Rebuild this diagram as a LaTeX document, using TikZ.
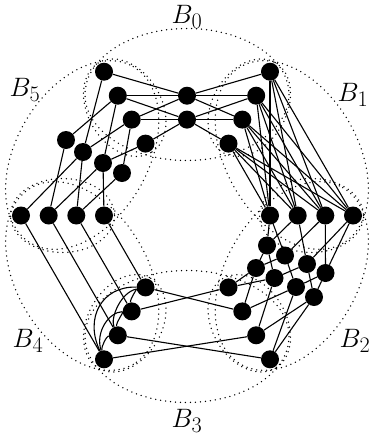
\documentclass[tikz,border=0pt]{standalone}
\begin{document}
\begin{tikzpicture}[x=1pt,y=-1pt,
  v/.style={circle,fill=black,inner sep=0pt,minimum size=18pt},
  e/.style={line width=1.1pt},
  bag/.style={line width=1.5pt,dash pattern=on 0pt off 5pt,line cap=round,black},
  lab/.style={font=\fontsize{24.88}{30}\selectfont,scale=1.07}]
\useasboundingbox (0,0) rectangle (370,437);
% bags
\draw[bag,rotate around={0:(187,94.5)}] (187,94.5) ellipse[x radius=102,y radius=66];
\draw[bag,rotate around={-60:(291.8,155)}] (291.8,155) ellipse[x radius=102,y radius=66];
\draw[bag,rotate around={60:(291.8,276)}] (291.8,276) ellipse[x radius=102,y radius=66];
\draw[bag,rotate around={0:(187,336.5)}] (187,336.5) ellipse[x radius=102,y radius=66];
\draw[bag,rotate around={-60:(82.2,276)}] (82.2,276) ellipse[x radius=102,y radius=66];
\draw[bag,rotate around={60:(82.2,155)}] (82.2,155) ellipse[x radius=102,y radius=66];
% separators
\draw[bag,rotate around={0:(311.5,215.5)}] (311.5,215.5) ellipse[x radius=52,y radius=37];
\draw[bag,rotate around={60:(249.25,107.7)}] (249.25,107.7) ellipse[x radius=52,y radius=37];
\draw[bag,rotate around={-60:(124.75,107.7)}] (124.75,107.7) ellipse[x radius=52,y radius=37];
\draw[bag,rotate around={0:(62.5,215.5)}] (62.5,215.5) ellipse[x radius=52,y radius=37];
\draw[bag,rotate around={60:(124.75,323.3)}] (124.75,323.3) ellipse[x radius=52,y radius=37];
\draw[bag,rotate around={-60:(249.25,323.3)}] (249.25,323.3) ellipse[x radius=52,y radius=37];
% labels
\node[lab] (l0) at (187,17) {$B_0$};
\node[lab] (l1) at (353,95) {$B_1$};
\node[lab] (l2) at (355,341) {$B_2$};
\node[lab] (l3) at (187,421) {$B_3$};
\node[lab] (l4) at (28,341) {$B_4$};
\node[lab] (l5) at (25,90) {$B_5$};
% vertices
\node[v] (t3) at (145.5,143.6) {}; \node[v] (t4) at (131.7,119.6) {};
\node[v] (t5) at (117.8,95.7) {};  \node[v] (t6) at (104,71.7) {};
\node[v] (u3) at (228.5,143.6) {}; \node[v] (u4) at (242.3,119.6) {};
\node[v] (u5) at (256.2,95.7) {};  \node[v] (u6) at (270,71.7) {};
\node[v] (R3) at (270,215.5) {};   \node[v] (R4) at (297.7,215.5) {};
\node[v] (R5) at (325.3,215.5) {}; \node[v] (R6) at (353,215.5) {};
\node[v] (L3) at (104,215.5) {};   \node[v] (L4) at (76.3,215.5) {};
\node[v] (L5) at (48.7,215.5) {};  \node[v] (L6) at (21,215.5) {};
\node[v] (p3) at (145.5,287.4) {}; \node[v] (p4) at (131.7,311.4) {};
\node[v] (p5) at (117.8,335.3) {}; \node[v] (p6) at (104,359.3) {};
\node[v] (q3) at (228.5,287.4) {}; \node[v] (q4) at (242.3,311.4) {};
\node[v] (q5) at (256.2,335.3) {}; \node[v] (q6) at (270,359.3) {};
\node[v] (c4) at (187,119.6) {};   \node[v] (c5) at (187,95.7) {};
\node[v] (n3) at (122,173) {};     \node[v] (n4) at (103,163) {};
\node[v] (n5) at (83,152) {};      \node[v] (n6) at (66,140) {};
\node[v] (a1) at (267,245.5) {};   \node[v] (a2) at (285,255.5) {};
\node[v] (a3) at (307,264) {};     \node[v] (a4) at (325.5,273) {};
\node[v] (b1) at (256,268) {};     \node[v] (b2) at (274.5,278) {};
\node[v] (b3) at (296,287) {};     \node[v] (b4) at (314,297) {};
% B0
\foreach \a/\b in {c5/t6,c5/t5,c5/t4,c4/t5,c4/t4,c4/t3,c5/u6,c5/u5,c5/u4,c4/u5,c4/u4,c4/u3}
  \draw[e] (\a) -- (\b);
% B1
\foreach \a in {u3,u4,u5,u6} \foreach \b in {R3,R4,R5,R6} \draw[e] (\a) -- (\b);
% B2
\foreach \a/\b in {R3/a1,R3/a2,R4/a1,R4/a3,R5/a2,R5/a4,R6/a3,R6/a4,
  a1/b1,a1/b2,a2/b1,a2/b3,a3/b2,a3/b4,a4/b3,a4/b4,
  b1/q3,b2/q3,b1/q4,b3/q4,b2/q5,b4/q5,b3/q6,b4/q6}
  \draw[e] (\a) -- (\b);
% B3
\foreach \a/\b in {p3/q4,p4/q3,p5/q6,p6/q5} \draw[e] (\a) -- (\b);
% B4
\foreach \a/\b in {L3/p3,L4/p4,L5/p5,L6/p6} \draw[e] (\a) -- (\b);
\draw[e] (p6) .. controls (84,318) and (102,286) .. (p3);
\draw[e] (p6) .. controls (95,332) and (109,312) .. (p4);
\draw[e] (p6) .. controls (101,346) and (107,336) .. (p5);
\draw[e] (p5) .. controls (110,318) and (121,292) .. (p3);
\draw[e] (p5) .. controls (116,322) and (124,312) .. (p4);
\draw[e] (p4) .. controls (130,299) and (137,289) .. (p3);
% B5
\foreach \a/\b in {t6/n5,t5/n6,t5/n4,t4/n5,t4/n3,t3/n4,L6/n5,L5/n6,L5/n4,L4/n5,L4/n3,L3/n4}
  \draw[e] (\a) -- (\b);
\end{tikzpicture}
\end{document}
